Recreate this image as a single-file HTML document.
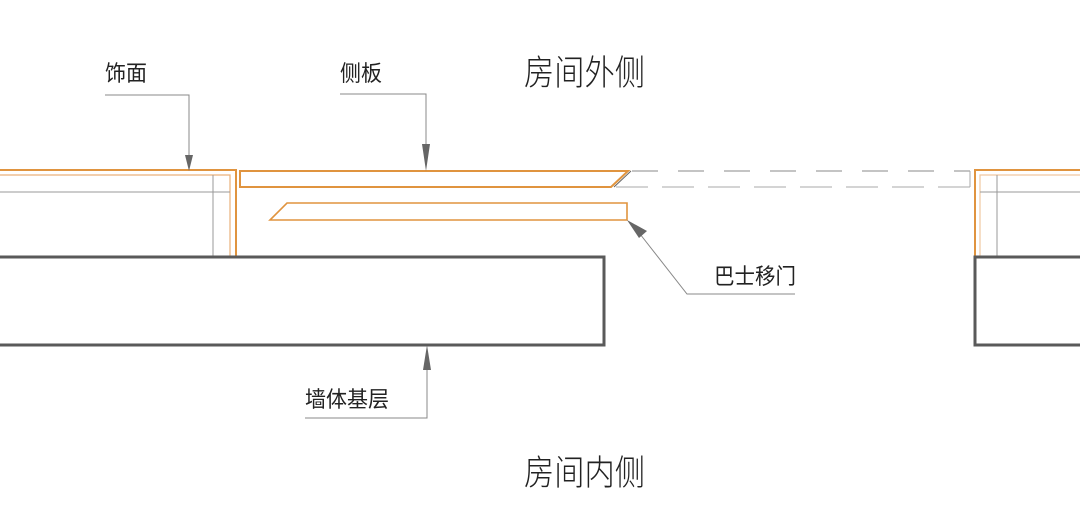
<!DOCTYPE html>
<html><head><meta charset="utf-8"><style>
body{margin:0;background:#fff;}
svg text{font-family:"Liberation Sans","Noto Sans CJK SC",sans-serif;fill:#222;}
</style></head><body>
<svg width="1080" height="526" viewBox="0 0 1080 526" xmlns="http://www.w3.org/2000/svg">
<g fill="none">
<polyline points="0,170 236,170 236,257" stroke="#e0943f" stroke-width="2"/>
<polyline points="0,175 230,175 230,257" stroke="#eab07a" stroke-width="1.2"/>
<line x1="0" y1="192" x2="230" y2="192" stroke="#999" stroke-width="1"/>
<line x1="213" y1="175" x2="213" y2="257" stroke="#999" stroke-width="1"/>
<rect x="-5" y="257" width="609" height="88" stroke="#5a5a5a" stroke-width="3"/>
<polygon points="240,171 628,171 611,187 240,187" stroke="#e0943f" stroke-width="2"/>
<polygon points="287,203 627,203 627,220 270,220" stroke="#e0943f" stroke-width="1.6"/>
<line x1="614" y1="187" x2="631" y2="171" stroke="#666" stroke-width="1"/>
<line x1="632" y1="171" x2="970" y2="171" stroke="#888" stroke-width="1" stroke-dasharray="26,20"/>
<line x1="616" y1="187" x2="970" y2="187" stroke="#aaa" stroke-width="1" stroke-dasharray="32,14"/>
<line x1="970" y1="171" x2="970" y2="187" stroke="#aaa" stroke-width="1"/>
<polyline points="975,257 975,170 1080,170" stroke="#e0943f" stroke-width="2"/>
<polyline points="980,257 980,175 1080,175" stroke="#f0c8a0" stroke-width="1.2"/>
<line x1="980" y1="192" x2="1080" y2="192" stroke="#999" stroke-width="1"/>
<line x1="997" y1="175" x2="997" y2="257" stroke="#999" stroke-width="1"/>
<rect x="975" y="257" width="120" height="88" stroke="#5a5a5a" stroke-width="3"/>
<g stroke="#888" stroke-width="1">
<polyline points="105,95 189,95 189,160"/>
<polyline points="340,94 426,94 426,160"/>
<polyline points="640,234 687,294 795,294"/>
<polyline points="305,418 427,418 427,355"/>
</g>
</g>
<g fill="#666">
<polygon points="185,155 193,155 189,171"/>
<polygon points="422,144 430,144 426,171"/>
<polygon points="427,345 423,370 431,370"/>
<polygon points="627,220 647,231 639,238"/>
</g>
<text x="105" y="81" font-size="22" textLength="42" lengthAdjust="spacingAndGlyphs">饰面</text>
<text x="340" y="81" font-size="22" textLength="42" lengthAdjust="spacingAndGlyphs">侧板</text>
<text x="714" y="284" font-size="22" textLength="82" lengthAdjust="spacingAndGlyphs">巴士移门</text>
<text x="305" y="407" font-size="22" textLength="84" lengthAdjust="spacingAndGlyphs">墙体基层</text>
<text x="524" y="85" font-size="35" font-weight="300" textLength="121" lengthAdjust="spacingAndGlyphs">房间外侧</text>
<text x="524" y="485" font-size="35" font-weight="300" textLength="121" lengthAdjust="spacingAndGlyphs">房间内侧</text>
</svg>
</body></html>
